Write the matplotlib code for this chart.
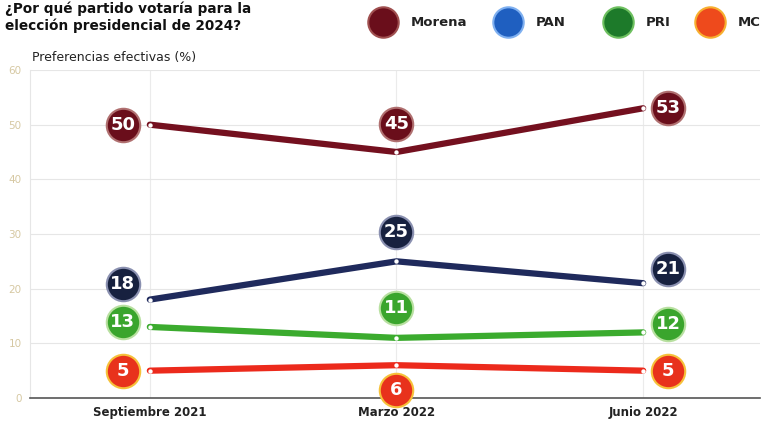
import matplotlib
matplotlib.use("Agg")
import matplotlib.pyplot as plt
from matplotlib.transforms import offset_copy

periods = ["Septiembre 2021", "Marzo 2022", "Junio 2022"]
parties = ["Morena", "PAN", "PRI", "MC"]
morena = [50, 45, 53]
pan = [18, 25, 21]
pri = [13, 11, 12]
mc = [5, 6, 5]
yticks = [0, 10, 20, 30, 40, 50, 60]

series = [morena, pan, pri, mc]
line_colors = ["#74101f", "#1f2a5c", "#3bab2e", "#ec2a1c"]
bubble_colors = ["#6a0e1b", "#17213f", "#3aa52d", "#e8321c"]
edge_colors = ["#b07070", "#8a90b0", "#b8e0a0", "#f6c13a"]
# label offsets in pixels (dx, dy) for each point
offsets = [
    [(-27, 0), (0, 28), (25, 0)],
    [(-27, 16), (0, 29), (25, 14)],
    [(-27, 5), (0, 30), (25, 8)],
    [(-27, 0), (0, -25), (25, 0)],
]

W, H = 762, 429
fig = plt.figure(figsize=(W / 100, H / 100), dpi=100)
ax = fig.add_axes([30 / W, 1 - 398 / H, 730 / W, (398 - 70) / H])
x = list(range(len(periods)))
ax.set_xlim(-120 / 247, 2 + 117 / 247)
ax.set_ylim(0, 60)

for xv in x:
    ax.axvline(xv, color="#ebebeb", lw=0.8, zorder=0)
for yv in yticks[1:]:
    ax.axhline(yv, color="#e6e6e6", lw=0.8, zorder=0)

for vals, lc in zip(series, line_colors):
    ax.plot(x, vals, color=lc, lw=4.5, solid_capstyle="round", zorder=2)
    ax.scatter(x, vals, s=10, color="white", zorder=3, linewidths=0)

for vals, offs, bc, ec in zip(series, offsets, bubble_colors, edge_colors):
    for xv, v, (dx, dy) in zip(x, vals, offs):
        tr = offset_copy(ax.transData, fig=fig, x=dx, y=dy, units="dots")
        ax.scatter([xv], [v], s=580, color=bc, edgecolors=ec, linewidths=1.5,
                   transform=tr, zorder=4, clip_on=False)
        ax.text(xv, v, str(v), transform=tr, ha="center", va="center",
                color="white", fontsize=13, fontweight="bold", zorder=5)

ax.set_xticks(x)
ax.set_xticklabels(periods, fontsize=8.5, fontweight="bold", color="#222222")
ax.set_yticks(yticks)
ax.set_yticklabels([str(t) for t in yticks], fontsize=7.5, color="#d6c8a2")
ax.tick_params(axis="both", length=0, pad=6)
for s in ["top", "right"]:
    ax.spines[s].set_visible(False)
ax.spines["left"].set_color("#e6e6e6")
ax.spines["bottom"].set_color("#555555")
ax.spines["bottom"].set_linewidth(1.2)

fig.text(5 / W, 1 - 1 / H, "¿Por qué partido votaría para la\nelección presidencial de 2024?",
         ha="left", va="top", fontsize=9.8, fontweight="bold", color="#111111",
         linespacing=1.25)
fig.text(32 / W, 1 - 58 / H, "Preferencias efectivas (%)", ha="left", va="center",
         fontsize=9, color="#222222")

# legend
lax = fig.add_axes([0, 0, 1, 1], zorder=-1)
lax.set_xlim(0, W)
lax.set_ylim(H, 0)
lax.axis("off")
leg_x = [383, 508, 618, 710]
leg_fc = ["#6a0e1b", "#1f5fc0", "#1d7a2a", "#ee4a1c"]
leg_ec = ["#a05050", "#7fb0f0", "#6ec060", "#f7b030"]
for px, name, fc, ec in zip(leg_x, parties, leg_fc, leg_ec):
    lax.scatter([px], [22], s=480, color=fc, edgecolors=ec, linewidths=1.5)
    lax.text(px + 28, 22, name, ha="left", va="center", fontsize=9.5,
             fontweight="bold", color="#222222")

fig.savefig("out.png", dpi=100)
